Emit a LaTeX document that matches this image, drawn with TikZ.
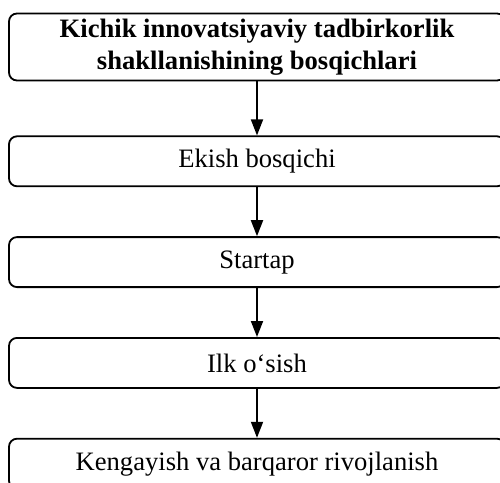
\documentclass[tikz,border=0pt]{standalone}
\usepackage{fontspec}
\setmainfont{Liberation Serif}
\usepackage{tikz}
\usetikzlibrary{arrows.meta,positioning}
\tikzset{
  stagebox/.style={draw=black, rounded corners=4pt, line width=0.9pt, fill=white, align=center,
    minimum width=248pt, minimum height=25pt, inner sep=2pt, font=\fontsize{13.3}{15}\selectfont},
  stagetitle/.style={stagebox, minimum height=33.5pt, font=\fontsize{13.3}{16}\selectfont\bfseries},
  stageline/.style={-{Triangle[length=8pt,width=6pt]}, line width=0.9pt}
}
\begin{document}
\begin{tikzpicture}[node distance=24.5pt]
  \useasboundingbox (0,0) rectangle (250pt,-241.5pt);
  \node[stagetitle] (title) at (128.5pt,-23.5pt) {Kichik innovatsiyaviy tadbirkorlik\\shakllanishining bosqichlari};
  \node[stagebox, below=27pt of title] (ekish) {Ekish bosqichi};
  \node[stagebox, below=of ekish] (startap) {Startap};
  \node[stagebox, below=of startap] (osish) {Ilk o‘sish};
  \node[stagebox, below=of osish] (kengay) {Kengayish va barqaror rivojlanish};

  \draw[stageline] (title) -- (ekish);
  \draw[stageline] (ekish) -- (startap);
  \draw[stageline] (startap) -- (osish);
  \draw[stageline] (osish) -- (kengay);
\end{tikzpicture}
\end{document}
